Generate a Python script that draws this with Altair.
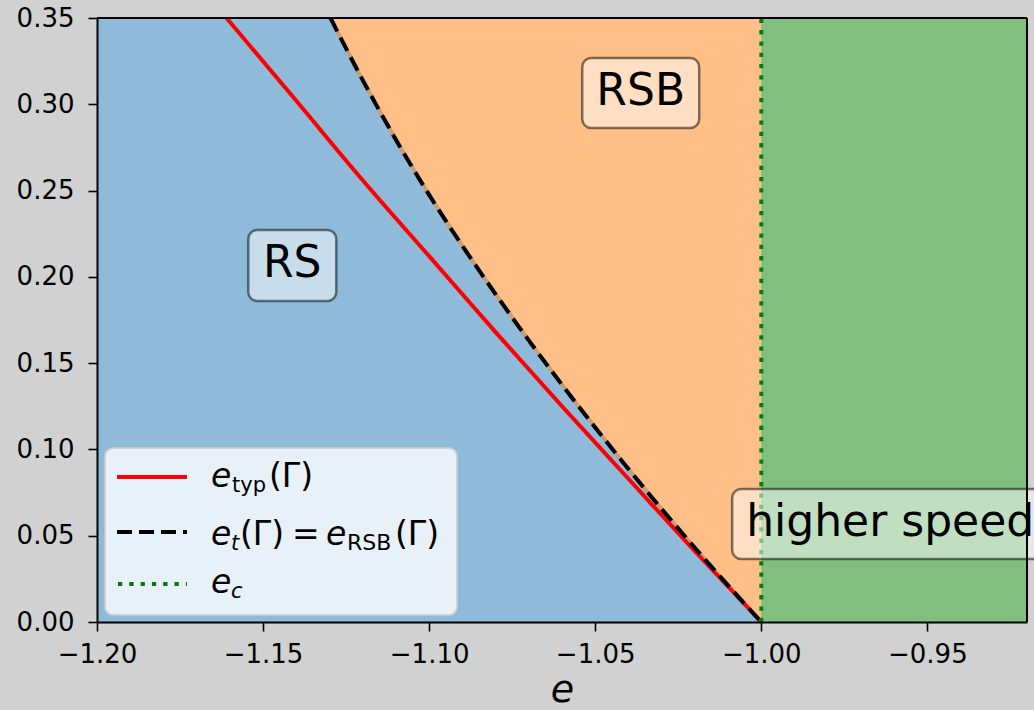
import altair as alt
import pandas as pd

# e_typ(Γ): typical energy curve
typ_e = [-1.161, -1.14, -1.12, -1.10, -1.08, -1.06, -1.04, -1.02, -1.00]
typ_g = [0.350, 0.302, 0.256, 0.212, 0.168, 0.125, 0.083, 0.041, 0.000]

# e_t(Γ) = e_RSB(Γ): transition line bounding the RSB phase
rsb_e = [-1.1297, -1.12, -1.11, -1.10, -1.09, -1.08, -1.07, -1.06, -1.05,
         -1.04, -1.03, -1.02, -1.01, -1.00]
rsb_g = [0.350, 0.314, 0.2795, 0.2475, 0.218, 0.190, 0.1632, 0.1375, 0.1127,
         0.0887, 0.0655, 0.043, 0.0212, 0.000]

# critical energy e_c
e_c = -1.0

# axis ranges and ticks
e_range = [-1.20, -0.92]
g_range = [0.0, 0.35]
x_ticks = [-1.20, -1.15, -1.10, -1.05, -1.00, -0.95]
y_ticks = [0.00, 0.05, 0.10, 0.15, 0.20, 0.25, 0.30, 0.35]

# phase labels
region_names = ["RS", "RSB", "higher speed"]
region_e = [-1.1412, -1.0363, -0.9612]
region_g = [0.2066, 0.3065, 0.0568]

# ---------------------------------------------------------------- styling
W, H = 930, 604
FONT = "DejaVu Sans"
BLUE, ORANGE, GREEN = "#8fbad9", "#ffbf86", "#80bf80"
box_half = {"RS": (44, 35.5), "RSB": (58.5, 35), "higher speed": (158, 35)}

xs = alt.Scale(domain=e_range, nice=False, zero=False)
ys = alt.Scale(domain=g_range, nice=False, zero=False)

typ_df = pd.DataFrame({"e": typ_e, "g": typ_g})
rsb_df = pd.DataFrame({"e": rsb_e, "g": rsb_g, "top": [g_range[1]] * len(rsb_e)})
phase_df = pd.DataFrame({
    "e0": [e_range[0], e_c], "e1": [e_c, e_range[1]],
    "g0": [g_range[0]] * 2, "g1": [g_range[1]] * 2,
    "phase": ["low", "high"],
})
ec_df = pd.DataFrame({"e": [e_c], "g0": [g_range[0]], "g1": [g_range[1]]})
lab_df = pd.DataFrame({"name": region_names, "e": region_e, "g": region_g})
one = pd.DataFrame({"k": [0]})

x_axis = alt.Axis(values=x_ticks, format=".2f", title="e", grid=False,
                  labelFontSize=26, labelPadding=10, labelFlush=False,
                  tickSize=9, tickWidth=1.6,
                  domainWidth=2, domainColor="black", tickColor="black",
                  labelColor="black", titleFontSize=38, titleFontStyle="italic",
                  titleFontWeight="normal", titleColor="black", titlePadding=4,
                  zindex=1)
y_axis = alt.Axis(values=y_ticks, format=".2f", title=None, grid=False,
                  labelFontSize=26, labelPadding=14, labelFlush=False,
                  tickSize=9, tickWidth=1.6,
                  domainWidth=2, domainColor="black", tickColor="black",
                  labelColor="black", zindex=1)

# phase backgrounds
blue = alt.Chart(phase_df).transform_filter("datum.phase == 'low'").mark_rect(
    color=BLUE).encode(
    x=alt.X("e0:Q", scale=xs, axis=x_axis), x2="e1:Q",
    y=alt.Y("g0:Q", scale=ys, axis=y_axis), y2="g1:Q")
green = alt.Chart(phase_df).transform_filter("datum.phase == 'high'").mark_rect(
    color=GREEN).encode(x=alt.X("e0:Q", scale=xs), x2="e1:Q",
                        y=alt.Y("g0:Q", scale=ys), y2="g1:Q")
orange = alt.Chart(rsb_df).mark_area(color=ORANGE, interpolate="monotone").encode(
    x=alt.X("e:Q", scale=xs), y=alt.Y("g:Q", scale=ys), y2="top:Q")

edge = alt.Chart(rsb_df).mark_line(color="#c79d74", strokeWidth=4,
                                   interpolate="monotone").encode(
    x=alt.X("e:Q", scale=xs), y=alt.Y("g:Q", scale=ys))
red = alt.Chart(typ_df).mark_line(color="#ff0000", strokeWidth=4,
                                  interpolate="monotone").encode(
    x=alt.X("e:Q", scale=xs), y=alt.Y("g:Q", scale=ys))
black = alt.Chart(rsb_df).mark_line(color="black", strokeWidth=4,
                                    strokeDash=[15, 7], strokeCap="butt",
                                    interpolate="monotone").encode(
    x=alt.X("e:Q", scale=xs), y=alt.Y("g:Q", scale=ys))
dotted = alt.Chart(ec_df).mark_rule(color="#008000", strokeWidth=4,
                                    strokeDash=[4.3, 7], strokeCap="butt").encode(
    x=alt.X("e:Q", scale=xs), y=alt.Y("g0:Q", scale=ys), y2="g1:Q")

# rounded label boxes
boxes = []
for name in region_names:
    hw, hh = box_half[name]
    boxes.append(
        alt.Chart(lab_df).transform_filter(f"datum.name == '{name}'").mark_rect(
            fill="white", fillOpacity=0.5, stroke="black", strokeOpacity=0.5,
            strokeWidth=2.5, cornerRadius=9,
            xOffset=-hw, x2Offset=hw, yOffset=-hh, y2Offset=hh).encode(
            x=alt.X("e:Q", scale=xs), x2="e:Q",
            y=alt.Y("g:Q", scale=ys), y2="g:Q"))
labels = alt.Chart(lab_df).mark_text(font=FONT, fontSize=44, color="black",
                                     align="center", baseline="alphabetic",
                                     dy=12).encode(
    x=alt.X("e:Q", scale=xs), y=alt.Y("g:Q", scale=ys), text="name:N")

# legend
leg_box = alt.Chart(one).mark_rect(fill="white", fillOpacity=0.8,
                                   stroke="#cccccc", strokeOpacity=0.8,
                                   strokeWidth=2, cornerRadius=8).encode(
    x=alt.value(8), x2=alt.value(360), y=alt.value(430), y2=alt.value(597))
leg_red = alt.Chart(one).mark_rule(color="#ff0000", strokeWidth=4).encode(
    x=alt.value(20), x2=alt.value(90), y=alt.value(459))
leg_black = alt.Chart(one).mark_rule(color="black", strokeWidth=4,
                                     strokeDash=[15, 7], strokeCap="butt").encode(
    x=alt.value(20), x2=alt.value(90), y=alt.value(514))
leg_green = alt.Chart(one).mark_rule(color="#008000", strokeWidth=4,
                                     strokeDash=[4.3, 7], strokeCap="butt").encode(
    x=alt.value(21), x2=alt.value(90), y=alt.value(566))

leg_text = pd.DataFrame([
    ("e", 114, 469, 33, True), ("typ", 135, 474, 21, False), ("(Γ)", 172, 469, 33, False),
    ("e", 114, 527, 33, True), ("t", 134, 532, 21, True), ("(Γ)", 143, 527, 33, False),
    ("=", 195, 527, 33, False), ("e", 229, 527, 33, True), ("RSB", 250, 532, 22, False),
    ("(Γ)", 298, 527, 33, False),
    ("e", 114, 575, 33, True), ("c", 134, 580, 21, True),
], columns=["t", "px", "py", "fs", "it"])


def leg_layer(italic):
    return alt.Chart(leg_text).transform_filter(
        f"datum.it == {'true' if italic else 'false'}").mark_text(
        font=FONT, align="left", baseline="alphabetic", color="black",
        fontStyle="italic" if italic else "normal").encode(
        x=alt.X("px:Q", scale=None), y=alt.Y("py:Q", scale=None),
        size=alt.Size("fs:Q", scale=None, legend=None), text="t:N")


# top and right spines
spine_top = alt.Chart(one).mark_rule(color="black", strokeWidth=2).encode(
    x=alt.value(0), x2=alt.value(W), y=alt.value(0))
spine_right = alt.Chart(one).mark_rule(color="black", strokeWidth=2).encode(
    x=alt.value(W), y=alt.value(0), y2=alt.value(H))

chart = alt.layer(
    blue, orange, green, edge, red, black, dotted, *boxes, labels,
    leg_box, leg_red, leg_black, leg_green, leg_layer(True), leg_layer(False),
    spine_top, spine_right,
).properties(
    width=W, height=H, background="#d1d1d1",
    padding={"left": 97, "top": 18, "right": 7, "bottom": 88},
    autosize=alt.AutoSizeParams(type="none"),
).configure_view(stroke=None).configure_axis(
    labelFont=FONT, titleFont=FONT).configure_text(font=FONT)

chart.save("out.html", embed_options={"renderer": "svg", "actions": False})
